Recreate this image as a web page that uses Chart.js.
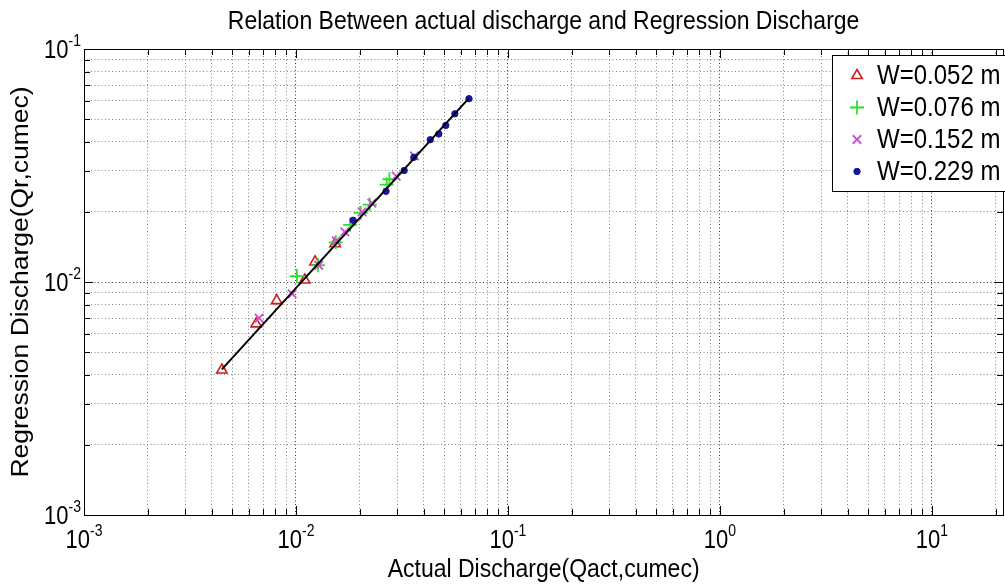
<!DOCTYPE html>
<html>
<head>
<meta charset="utf-8">
<script src="https://cdn.jsdelivr.net/npm/chart.js@4.4.0/dist/chart.umd.min.js"></script>
<style>
  html, body { margin: 0; padding: 0; overflow: hidden; background: #fff; }
  #wrap { width: 1012px; height: 585px; }
</style>
</head>
<body>
<div id="wrap"><canvas id="chart"></canvas></div>
<script>
// values (cumec)
const seriesLabels = ['W=0.052 m', 'W=0.076 m', 'W=0.152 m', 'W=0.229 m'];

const qact052 = [0.00447, 0.00649, 0.00811, 0.0110, 0.0123, 0.0153];
const qr052   = [0.00419, 0.00661, 0.00832, 0.0102, 0.0122, 0.0146];

const qact076 = [0.0101, 0.0127, 0.0154, 0.0180, 0.0202, 0.0223, 0.0268, 0.0276];
const qr076   = [0.0106, 0.0118, 0.0148, 0.0176, 0.0198, 0.0215, 0.0262, 0.0276];

const qact152 = [0.0067, 0.0096, 0.0128, 0.0155, 0.0170, 0.0205, 0.0228, 0.0297, 0.0362];
const qr152   = [0.0070, 0.0089, 0.0118, 0.0150, 0.0164, 0.0200, 0.0218, 0.0285, 0.0348];

const qact229 = [0.0186, 0.0266, 0.0324, 0.0360, 0.0430, 0.0472, 0.0509, 0.0562, 0.0655];
const qr229   = [0.0184, 0.0245, 0.0301, 0.0343, 0.0408, 0.0432, 0.0470, 0.0527, 0.0612];

// regression line ends
const fitX = [0.00447, 0.0655];
const fitY = [0.00422, 0.0615];

// decade tick exponents
const xExponents = [-3, -2, -1, 0, 1];
const yExponents = [-3, -2, -1];

const FONT = '"Liberation Sans", Arial, Helvetica, sans-serif';
const STRETCH = 1.15; // the source picture is a bit taller than wide

function toPoints(xs, ys) {
    return xs.map((v, i) => ({ x: v, y: ys[i] }));
}

function isPow10(v) {
    const l = Math.log10(v);
    return Math.abs(l - Math.round(l)) < 1e-9;
}

// 1..9 x 10^n ticks inside the axis range
function logTicks(scale) {
    const ticks = [];
    for (let e = -4; e <= 2; e++) {
        for (let m = 1; m <= 9; m++) {
            const v = Number((m * Math.pow(10, e)).toPrecision(3));
            if (v >= scale.min * 0.9999 && v <= scale.max * 1.0001) ticks.push({ value: v });
        }
    }
    scale.ticks = ticks;
}

// text drawn with a vertical stretch (or along its length when rotated)
function text(ctx, str, x, y, size, align, baseline, rotate) {
    ctx.save();
    ctx.translate(x, y);
    if (rotate) {
        ctx.rotate(-Math.PI / 2);
        ctx.scale(STRETCH, 1);
    } else {
        ctx.scale(1, STRETCH);
    }
    ctx.font = size + 'px ' + FONT;
    ctx.textAlign = align;
    ctx.textBaseline = baseline;
    ctx.fillText(str, 0, 0);
    ctx.restore();
}

function drawPow(ctx, e, x, y, align) {
    ctx.font = '22px ' + FONT;
    const bw = ctx.measureText('10').width;
    ctx.font = '14px ' + FONT;
    const ew = ctx.measureText(String(e)).width;
    const left = align === 'center' ? x - (bw + ew) / 2 : x - bw - ew;
    text(ctx, '10', left, y, 22, 'left', 'alphabetic');
    text(ctx, String(e), left + bw, y - 12, 14, 'left', 'alphabetic');
}

function line(ctx, x1, y1, x2, y2) {
    ctx.beginPath();
    ctx.moveTo(x1, y1);
    ctx.lineTo(x2, y2);
    ctx.stroke();
}

// frame, inward ticks, tick labels, titles and legend
const decorations = {
    id: 'decorations',
    afterDatasetsDraw(chart) {
        const { ctx, chartArea: a, scales: { x, y } } = chart;
        ctx.save();
        ctx.strokeStyle = '#000';
        ctx.lineWidth = 1;
        ctx.setLineDash([]);

        x.ticks.forEach(t => {
            const px = Math.round(x.getPixelForValue(t.value)) + 0.5;
            const len = isPow10(t.value) ? 9 : 6;
            line(ctx, px, a.bottom, px, a.bottom - len);
            line(ctx, px, a.top, px, a.top + len);
        });
        y.ticks.forEach(t => {
            const py = Math.round(y.getPixelForValue(t.value)) + 0.5;
            const len = isPow10(t.value) ? 9 : 6;
            line(ctx, a.left, py, a.left + len, py);
            line(ctx, a.right, py, a.right - len, py);
        });
        ctx.strokeRect(Math.round(a.left) + 0.5, Math.round(a.top) + 0.5,
            Math.round(a.right - a.left), Math.round(a.bottom - a.top));

        // tick labels
        ctx.fillStyle = '#000';
        xExponents.forEach(e => {
            drawPow(ctx, e, x.getPixelForValue(Math.pow(10, e)), a.bottom + 33, 'center');
        });
        yExponents.forEach(e => {
            drawPow(ctx, e, a.left - 3, y.getPixelForValue(Math.pow(10, e)) + 9, 'right');
        });

        // titles
        const cx = (a.left + a.right) / 2;
        text(ctx, 'Relation Between actual discharge and Regression Discharge', cx, 29, 23, 'center', 'alphabetic');
        text(ctx, 'Actual Discharge(Qact,cumec)', cx, 577, 23, 'center', 'alphabetic');
        text(ctx, 'Regression Discharge(Qr,cumec)', 28, (a.top + a.bottom) / 2, 23, 'center', 'alphabetic', true);

        // legend box
        const lx = 832.5, ly = 55.5, lw = 200, rowH = 32;
        const rows = chart.data.datasets.filter(d => d.label);
        ctx.fillStyle = '#fff';
        ctx.fillRect(lx, ly, lw, rows.length * rowH + 8);
        ctx.strokeStyle = '#000';
        ctx.strokeRect(lx, ly, lw, rows.length * rowH + 8);
        rows.forEach((d, i) => {
            const ry = ly + 20 + i * rowH;
            ctx.fillStyle = d.backgroundColor;
            ctx.strokeStyle = d.borderColor;
            ctx.lineWidth = d.borderWidth;
            Chart.helpers.drawPoint(ctx, {
                pointStyle: d.pointStyle, radius: d.pointRadius, rotation: 0, borderWidth: d.borderWidth
            }, 857, ry);
            ctx.fillStyle = '#000';
            text(ctx, d.label, 877, ry + 1, 24, 'left', 'middle');
        });
        ctx.restore();
    }
};

const gridOpts = {
    color: c => (c.tick && isPow10(c.tick.value)) ? '#333' : '#858585',
    lineWidth: 1,
    drawTicks: false
};

new Chart(document.getElementById('chart'), {
    type: 'scatter',
    data: {
        datasets: [
            {
                data: toPoints(fitX, fitY), showLine: true, borderColor: '#000', borderWidth: 2,
                pointRadius: 0, order: 0
            },
            {
                label: seriesLabels[0], data: toPoints(qact052, qr052), pointStyle: 'triangle',
                pointRadius: 6, borderColor: '#c81e1e', backgroundColor: 'rgba(255,255,255,0.6)', borderWidth: 1.6, order: 4
            },
            {
                label: seriesLabels[1], data: toPoints(qact076, qr076), pointStyle: 'cross',
                pointRadius: 7, borderColor: '#2ee02e', backgroundColor: '#2ee02e', borderWidth: 1.8, order: 3
            },
            {
                label: seriesLabels[2], data: toPoints(qact152, qr152), pointStyle: 'crossRot',
                pointRadius: 6, borderColor: '#c84fd0', backgroundColor: '#c84fd0', borderWidth: 1.8, order: 2
            },
            {
                label: seriesLabels[3], data: toPoints(qact229, qr229), pointStyle: 'circle',
                pointRadius: 3.2, borderColor: '#1616a8', backgroundColor: '#1616a8', borderWidth: 1, order: 1
            }
        ]
    },
    options: {
        responsive: true,
        maintainAspectRatio: false,
        animation: false,
        layout: { padding: { left: 84, top: 49, right: 3, bottom: 70 } },
        plugins: { legend: { display: false }, tooltip: { enabled: false } },
        scales: {
            x: {
                type: 'logarithmic', min: 0.001, max: 21.7,
                afterBuildTicks: logTicks,
                ticks: { display: false, autoSkip: false },
                grid: gridOpts,
                border: { display: false, dash: [1, 2.5] }
            },
            y: {
                type: 'logarithmic', min: 0.001, max: 0.1,
                afterBuildTicks: logTicks,
                ticks: { display: false, autoSkip: false },
                grid: gridOpts,
                border: { display: false, dash: [1, 2.5] }
            }
        }
    },
    plugins: [decorations]
});
</script>
</body>
</html>
